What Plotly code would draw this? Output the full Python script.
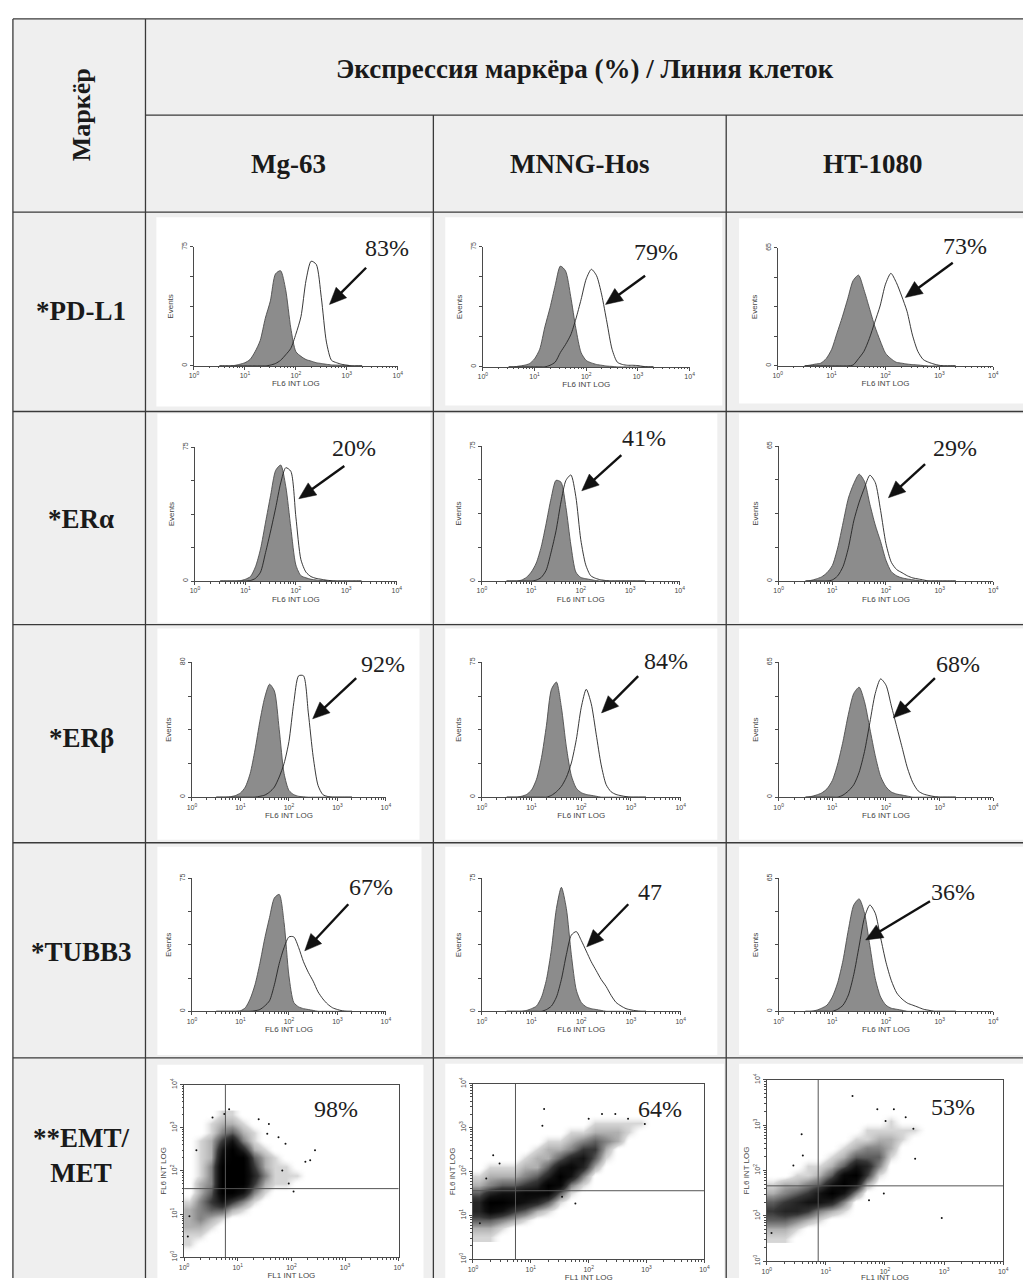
import math
import plotly.graph_objects as go

W, H = 1029, 1282

# ---------------- text / categories ----------------
TITLE = "Экспрессия маркёра (%) / Линия клеток"
MARKER_HEADER = "Маркёр"
CELL_LINES = ["Mg-63", "MNNG-Hos", "HT-1080"]
MARKERS = ["*PD-L1", "*ERα", "*ERβ", "*TUBB3", "**EMT/<br>MET"]
PERCENTS = [["83%", "79%", "73%"],
            ["20%", "41%", "29%"],
            ["92%", "84%", "68%"],
            ["67%", "47", "36%"],
            ["98%", "64%", "53%"]]
EVENTS_MAX = [[75, 75, 65], [75, 75, 65], [80, 75, 65], [75, 75, 65]]
DECADE_LABELS = ["10<sup>0</sup>", "10<sup>1</sup>", "10<sup>2</sup>", "10<sup>3</sup>", "10<sup>4</sup>"]

# ---------------- histogram data (log10 FL6 intensity grid, events) ----------------
LOG_GRID = [0.5, 0.6, 0.7, 0.8, 0.9, 1.0, 1.1, 1.2, 1.3, 1.4, 1.5, 1.6, 1.7, 1.8, 1.9,
            2.0, 2.1, 2.2, 2.3, 2.4, 2.5, 2.6, 2.7, 2.8, 2.9, 3.0, 3.1, 3.2, 3.3]

PDL1_CONTROL = [
    [0, 0, 0, 0.3, 1, 2, 4, 9, 16, 30, 41, 58, 60, 48, 24, 9, 6, 4, 3, 2, 1.5, 1, 0.6, 0.5, 0.4, 0.2, 0, 0, 0],
    [0, 0, 0.5, 1, 2, 5, 11, 25, 37, 51, 63, 60, 44, 24, 9, 4, 2.5, 1.5, 1, 0.5, 0.3, 0, 0, 0, 0, 0, 0, 0, 0],
    [0, 0.4, 1, 1.5, 4, 9, 18, 27, 37, 47, 50, 42, 32, 22, 14, 7, 4, 2, 1.5, 1, 0.7, 0.5, 0.2, 0, 0, 0, 0, 0, 0],
]
PDL1_MARKER = [
    [0, 0, 0, 0, 0, 0, 0, 0, 0, 0, 0.5, 1.5, 3.5, 7, 11, 20, 31, 54, 66, 64, 43, 15, 3.5, 2, 1, 0.5, 0, 0, 0],
    [0, 0, 0, 0, 0, 0, 0, 0, 1, 3, 9, 14, 20, 30, 42, 55, 61, 57, 45, 28, 11, 3, 1.5, 1, 1, 0.8, 0.3, 0, 0],
    [0, 0, 0, 0, 0, 0, 0, 0, 0, 0.5, 4, 8, 15, 24, 33, 45, 51, 46, 38.5, 30, 17, 8, 3.5, 2, 1, 0.3, 0, 0, 0],
]
ERA_CONTROL = [
    [0, 0, 0, 0, 0.2, 1, 2.5, 8, 18, 33, 48, 62, 65, 53, 30, 9, 3, 1.8, 1, 0.6, 0.3, 0.2, 0, 0, 0, 0, 0, 0, 0],
    [0, 0, 0, 0.5, 2, 5, 10, 19, 32, 46, 56, 55, 41, 20, 5, 2, 1.3, 0.8, 0.3, 0, 0, 0, 0, 0, 0, 0, 0, 0, 0],
    [0, 0.3, 1, 2, 4, 7.5, 16, 28, 40, 47, 51.5, 48, 37, 27, 19, 10, 4.5, 2.5, 1.5, 1, 0.6, 0.3, 0, 0, 0, 0, 0, 0, 0],
]
ERA_MARKER = [
    [0, 0, 0, 0, 0, 0, 0.3, 1.5, 5, 16, 28, 41, 55, 63.5, 61.5, 36, 12, 5, 2.5, 1.5, 1, 0.5, 0.2, 0, 0, 0, 0, 0, 0],
    [0, 0, 0, 0, 0, 0, 0.5, 2, 6, 16, 28, 44, 56, 59, 47, 23, 9, 3, 1.5, 0.7, 0.3, 0, 0, 0, 0, 0, 0, 0, 0],
    [0, 0, 0, 0, 0, 0.5, 2.5, 7, 16, 29, 38, 45, 51, 47.5, 34, 18, 9, 5.5, 4, 2.5, 1.5, 1, 0.5, 0, 0, 0, 0, 0, 0],
]
ERB_CONTROL = [
    [0, 0, 0, 0.3, 1, 2.5, 6, 14, 28, 45, 59, 67, 63, 40, 14, 4, 1.5, 0.5, 0.2, 0, 0, 0, 0, 0, 0, 0, 0, 0, 0],
    [0, 0, 0, 0.5, 1.5, 4, 10, 22, 40, 60, 64, 50, 28, 12, 5, 2.5, 1.5, 1, 0.5, 0, 0, 0, 0, 0, 0, 0, 0, 0, 0],
    [0, 0.3, 1, 2, 4, 8, 16, 27, 40, 50, 53, 46, 33, 20, 10, 5, 2.5, 1.5, 1, 0.5, 0, 0, 0, 0, 0, 0, 0, 0, 0],
]
ERB_MARKER = [
    [0, 0, 0, 0, 0, 0, 0, 0, 0, 0.5, 1.2, 3, 6, 12, 20, 33, 56, 72, 72, 50, 24, 7, 1.5, 0.4, 0, 0, 0, 0, 0],
    [0, 0, 0, 0, 0, 0, 0, 0, 0, 1, 3, 6, 11, 19, 32, 50, 60, 52, 35, 18, 7, 3, 1.5, 0.8, 0.3, 0, 0, 0, 0],
    [0, 0, 0, 0, 0, 0, 0, 1, 3, 6, 12, 22, 36, 50, 57, 54, 44, 34, 24, 14, 7, 3, 1.5, 0.8, 0.3, 0, 0, 0, 0],
]
TUBB3_CONTROL = [
    [0, 0, 0, 0, 0, 0.3, 2, 7, 15, 27, 41, 53, 64, 66, 50, 20, 5, 2.5, 1.5, 1, 0.5, 0, 0, 0, 0, 0, 0, 0, 0],
    [0, 0, 0, 0, 0.5, 1.5, 3, 8, 18, 35, 58, 70, 58, 32, 12, 5, 2.5, 1.5, 1, 0.5, 0, 0, 0, 0, 0, 0, 0, 0, 0],
    [0, 0, 0.5, 1.5, 3, 7, 14, 25, 40, 52, 55, 48, 32, 16, 7, 3, 1.5, 1, 0.5, 0, 0, 0, 0, 0, 0, 0, 0, 0, 0],
]
TUBB3_MARKER = [
    [0, 0, 0, 0, 0, 0, 0, 0, 0.3, 1, 3, 6, 15, 27, 36, 42, 42, 36, 28, 22, 17, 11, 7, 4, 2, 1, 0.3, 0, 0],
    [0, 0, 0, 0, 0, 0, 0, 0, 1, 3, 8, 18, 32, 43, 45, 40, 34, 28, 23, 18, 14, 9, 5, 3, 1.5, 0.8, 0.3, 0, 0],
    [0, 0, 0, 0, 0, 0, 1, 3, 8, 18, 32, 46, 52, 48, 36, 24, 15, 9, 6, 4, 3, 2, 1, 0.5, 0, 0, 0, 0, 0],
]
HIST_CONTROL = [PDL1_CONTROL, ERA_CONTROL, ERB_CONTROL, TUBB3_CONTROL]
HIST_MARKER = [PDL1_MARKER, ERA_MARKER, ERB_MARKER, TUBB3_MARKER]

# ---------------- EMT/MET dot-plot densities (log10 FL1 x log10 FL6 bins, 0-9) ----------------
MG_X = [0.1, 0.3, 0.5, 0.7, 0.9, 1.1, 1.3, 1.5, 1.7, 1.9, 2.1, 2.3, 2.5, 2.7, 2.9]
MG_Y = [3.3, 3.1, 2.9, 2.7, 2.5, 2.3, 2.1, 1.9, 1.7, 1.5, 1.3, 1.1, 0.9, 0.7, 0.5, 0.3, 0.1]
MG_DENSITY = ["000110000000000", "001221000000000", "001342100000000", "012573100000000",
              "012796210000000", "012899421000000", "013999521100000", "013999631110000",
              "023999521100000", "024997310000000", "135753100000000", "234421000000000",
              "232100000000000", "221000000000000", "110000000000000", "100000000000000",
              "000000000000000"]
MG_SPARSE_X = [2.44, 2.35, 2.26, 2.04, 1.89, 1.76, 1.58, 1.55, 1.39, 0.84, 0.75, 0.53, 0.23, 0.10, 0.07, 1.95, 1.83]
MG_SPARSE_Y = [2.48, 2.25, 2.21, 1.52, 2.63, 2.78, 3.09, 2.86, 3.20, 3.43, 3.32, 3.24, 2.48, 0.95, 0.48, 1.71, 2.01]

MNNG_X = [0.1, 0.3, 0.5, 0.7, 0.9, 1.1, 1.3, 1.5, 1.7, 1.9, 2.1, 2.3, 2.5, 2.7, 2.9, 3.1]
MNNG_Y = [3.3, 3.1, 2.9, 2.7, 2.5, 2.3, 2.1, 1.9, 1.7, 1.5, 1.3, 1.1, 0.9, 0.7, 0.5]
MNNG_DENSITY = ["0000000000000000", "0000000000111110", "0000000011222100", "0000001123432000",
                "0000012235520000", "0000122467410000", "0111224786200000", "1222346973000000",
                "2344569831000000", "4677888410000000", "6998764100000000", "6875421000000000",
                "4432100000000000", "2210000000000000", "1100000000000000"]
MNNG_SPARSE_X = [1.23, 1.20, 0.35, 2.97, 2.68, 2.46, 2.23, 0.23, 0.12, 2.00, 0.46, 1.77, 1.54]
MNNG_SPARSE_Y = [3.42, 3.04, 2.37, 3.08, 3.20, 3.31, 3.31, 1.84, 0.82, 3.20, 2.18, 1.27, 1.42]

HT_X = [0.1, 0.3, 0.5, 0.7, 0.9, 1.1, 1.3, 1.5, 1.7, 1.9, 2.1, 2.3, 2.5, 2.7, 2.9]
HT_Y = [3.3, 3.1, 2.9, 2.7, 2.5, 2.3, 2.1, 1.9, 1.7, 1.5, 1.3, 1.1, 0.9, 0.7, 0.5]
HT_DENSITY = ["000000000000000", "000000000010000", "000000001111100", "000000011221000",
              "000000123320000", "000001244410000", "000112476300000", "001124895100000",
              "122347972000000", "234579730000000", "456776300000000", "566532100000000",
              "443210000000000", "221000000000000", "110000000000000"]
HT_SPARSE_X = [1.45, 0.59, 0.61, 2.96, 2.51, 2.48, 2.35, 2.15, 2.01, 1.87, 1.98, 1.73, 0.45, 0.08]
HT_SPARSE_Y = [3.64, 2.80, 2.33, 0.95, 2.26, 2.92, 3.17, 3.35, 3.09, 3.35, 1.49, 1.34, 2.11, 0.62]

QUAD_X = [0.77, 0.735, 0.87]
QUAD_Y = [1.59, 1.56, 1.66]

DOT_X = [MG_X, MNNG_X, HT_X]
DOT_Y = [MG_Y, MNNG_Y, HT_Y]
DOT_DENSITY = [MG_DENSITY, MNNG_DENSITY, HT_DENSITY]
DOT_SPARSE = [(MG_SPARSE_X, MG_SPARSE_Y), (MNNG_SPARSE_X, MNNG_SPARSE_Y), (HT_SPARSE_X, HT_SPARSE_Y)]

# ---------------- layout geometry (pixels) ----------------
HIST_BOX = [  # (left, right, top, bottom) of each histogram axis box
    [(191, 397, 242, 362), (483, 692, 242, 363), (781, 999, 243, 362)],
    [(192, 396, 444, 579), (482, 682, 443, 579), (782, 999, 443, 579)],
    [(189, 385, 661, 797), (482, 683, 661, 797), (782, 999, 661, 797)],
    [(189, 385, 879, 1013), (482, 683, 879, 1013), (782, 999, 879, 1013)],
]
DOT_BOX = [(181, 398, 1087, 1261), (473, 707, 1086, 1263), (770, 1009, 1082, 1265)]
PANELS = [
    [(153, 212, 430, 403), (445, 212, 725, 402), (742, 213, 1029, 400)],
    [(154, 410, 430, 621), (445, 410, 720, 621), (742, 410, 1029, 621)],
    [(154, 627, 419, 840), (445, 627, 720, 840), (742, 627, 1029, 840)],
    [(154, 847, 421, 1057), (445, 847, 720, 1057), (742, 847, 1029, 1057)],
    [(154, 1067, 423, 1282), (445, 1066, 727, 1282), (742, 1066, 1029, 1282)],
]
PCT_POS = [
    [(386, 243), (658, 247), (970, 241)],
    [(353, 445), (646, 435), (960, 445)],
    [(382, 663), (668, 660), (963, 663)],
    [(370, 888), (652, 893), (958, 893)],
    [(335, 1112), (662, 1112), (958, 1110)],
]
ARROWS = [  # (tail_x, tail_y, head_x, head_y)
    [(365, 263, 328, 300), (647, 271, 607, 300), (958, 258, 910, 293)],
    [(343, 463, 297, 496), (623, 452, 583, 488), (930, 461, 893, 495)],
    [(355, 677, 311, 718), (640, 675, 603, 712), (940, 677, 898, 717)],
    [(347, 905, 303, 952), (630, 905, 588, 948), (935, 902, 870, 941)],
]
COL_X = [142, 433, 729]
ROW_Y = [207, 408, 623, 843, 1060]
ROW_LABEL_Y = [307, 516, 737, 953, 1158]

AX = "#4a4a4a"
LINE = "#3a3a3a"
TICKFONT = dict(family="Liberation Sans", size=7, color="#444")
TITLEFONT = dict(family="Liberation Sans", size=8, color="#444")
SERIF = "Liberation Serif"

def fx(p):
    return p / W

def fy(p):
    return 1 - p / H

def label(text, x, y, size, angle=0, color="#1a1a1a"):
    return dict(text=text, x=fx(x), y=fy(y), xref="paper", yref="paper", xanchor="center",
                yanchor="middle", showarrow=False, textangle=angle, align="center",
                font=dict(family=SERIF, size=size, color=color))

MINOR = [d + math.log10(k) for d in range(4) for k in range(2, 10)]

fig = go.Figure()
layout = dict(
    width=W, height=H, margin=dict(l=0, r=0, t=0, b=0),
    paper_bgcolor="white", plot_bgcolor="rgba(0,0,0,0)", showlegend=False,
)
shapes = []
annotations = []

# table background and white panels
shapes.append(dict(type="rect", xref="paper", yref="paper", x0=fx(8), x1=1.0, y0=0, y1=fy(12),
                   fillcolor="#efefef", line=dict(width=0), layer="below"))
for row in PANELS:
    for (x0, y0, x1, y1) in row:
        shapes.append(dict(type="rect", xref="paper", yref="paper", x0=fx(x0), x1=fx(x1),
                           y0=fy(y1), y1=fy(y0), fillcolor="white", line=dict(width=0), layer="below"))

def hline(y, x0, x1):
    shapes.append(dict(type="line", xref="paper", yref="paper", x0=fx(x0), x1=fx(x1), y0=fy(y), y1=fy(y),
                       line=dict(color=LINE, width=1.3), layer="above"))

def vline(x, y0, y1):
    shapes.append(dict(type="line", xref="paper", yref="paper", x0=fx(x), x1=fx(x), y0=fy(y0), y1=fy(y1),
                       line=dict(color=LINE, width=1.3), layer="above"))

def arrow(tx, ty, hx, hy, head_len=17, half_w=7.5):
    dx, dy = hx - tx, hy - ty
    d = math.hypot(dx, dy)
    ux, uy = dx / d, dy / d
    bx, by = hx - head_len * ux, hy - head_len * uy
    px_, py_ = -uy, ux
    shapes.append(dict(type="line", xref="paper", yref="paper", x0=fx(tx), y0=fy(ty), x1=fx(bx + 2 * ux),
                       y1=fy(by + 2 * uy), line=dict(color="#111", width=2.4), layer="above"))
    pts = [(hx, hy), (bx + half_w * px_, by + half_w * py_), (bx - half_w * px_, by - half_w * py_)]
    path = "M " + " L ".join(f"{fx(a):.5f},{fy(b):.5f}" for a, b in pts) + " Z"
    shapes.append(dict(type="path", xref="paper", yref="paper", path=path, fillcolor="#111",
                       line=dict(color="#111", width=0.5), layer="above"))

hline(12, 8, 1029)
vline(8, 12, 1282)
vline(COL_X[0], 12, 1282)
hline(109, COL_X[0], 1029)
vline(COL_X[1], 109, 1282)
vline(COL_X[2], 109, 1282)
for y in ROW_Y:
    hline(y, 8, 1029)

# headers
annotations.append(label("<b>" + TITLE + "</b>", 586, 63, 27))
annotations.append(label("<b>" + MARKER_HEADER + "</b>", 77, 109, 26, angle=-90))
col_centers = [287, 581, 877]
for j, name in enumerate(CELL_LINES):
    annotations.append(label("<b>" + name + "</b>", col_centers[j], 158, 27))
for i, m in enumerate(MARKERS):
    annotations.append(label("<b>" + m + "</b>", 77, ROW_LABEL_Y[i], 27))

# histograms
n = 0
for i in range(4):
    for j in range(3):
        n += 1
        l, r, t, b = HIST_BOX[i][j]
        ymax = EVENTS_MAX[i][j]
        xa, ya = f"x{n}", f"y{n}"
        fig.add_trace(go.Scatter(x=LOG_GRID, y=HIST_CONTROL[i][j], mode="lines", fill="tozeroy",
                                 fillcolor="#8c8c8c", line=dict(color="#4d4d4d", width=0.9, shape="spline", smoothing=0.7),
                                 xaxis=xa, yaxis=ya, hoverinfo="skip"))
        fig.add_trace(go.Scatter(x=LOG_GRID, y=HIST_MARKER[i][j], mode="lines",
                                 line=dict(color="#222", width=0.9, shape="spline", smoothing=0.7),
                                 xaxis=xa, yaxis=ya, hoverinfo="skip"))
        layout[f"xaxis{n}"] = dict(
            domain=[fx(l), fx(r)], range=[0, 4], anchor=ya, showline=True, linecolor=AX, linewidth=1,
            ticks="outside", ticklen=3, tickwidth=1, tickcolor=AX, tickvals=[0, 1, 2, 3, 4],
            ticktext=DECADE_LABELS, tickfont=TICKFONT, showgrid=False, zeroline=False, fixedrange=True,
            minor=dict(tickvals=MINOR, ticks="outside", ticklen=1.5, tickcolor=AX, showgrid=False),
            title=dict(text="FL6 INT LOG", font=TITLEFONT, standoff=2))
        layout[f"yaxis{n}"] = dict(
            domain=[fy(b), fy(t)], range=[0, ymax], anchor=xa, showline=True, linecolor=AX, linewidth=1,
            ticks="outside", ticklen=3, tickwidth=1, tickcolor=AX,
            tickvals=[0, ymax], ticktext=["0", str(ymax)],
            minor=dict(tickvals=[ymax * 0.25, ymax * 0.5, ymax * 0.75], ticks="outside", ticklen=3,
                       tickcolor=AX, showgrid=False),
            tickangle=-90, tickfont=TICKFONT, showgrid=False, zeroline=False, fixedrange=True,
            title=dict(text="Events", font=TITLEFONT, standoff=6))
        px_, py_ = PCT_POS[i][j]
        annotations.append(label(PERCENTS[i][j], px_, py_, 24, color="#1e1e1e"))
        arrow(*ARROWS[i][j])

# EMT/MET dot plots
DOT_SCALE = [[0.0, "rgba(255,255,255,0)"], [0.111, "rgba(185,185,185,0.6)"],
             [0.3, "rgba(130,130,130,0.9)"], [0.55, "rgb(55,55,55)"], [0.8, "rgb(15,15,15)"], [1.0, "rgb(0,0,0)"]]
for j in range(3):
    n += 1
    l, r, t, b = DOT_BOX[j]
    xa, ya = f"x{n}", f"y{n}"
    z = [[int(c) for c in row] for row in DOT_DENSITY[j]]
    fig.add_trace(go.Heatmap(x=DOT_X[j], y=DOT_Y[j], z=z, zmin=0, zmax=9, colorscale=DOT_SCALE,
                             zsmooth="best", showscale=False, xaxis=xa, yaxis=ya, hoverinfo="skip"))
    sx, sy = DOT_SPARSE[j]
    fig.add_trace(go.Scatter(x=sx, y=sy, mode="markers", marker=dict(size=2, color="#111"),
                             xaxis=xa, yaxis=ya, hoverinfo="skip"))
    common = dict(range=[0, 4], showline=True, mirror=True, linecolor=AX, linewidth=1,
                  ticks="outside", ticklen=3, tickwidth=1, tickcolor=AX, tickvals=[0, 1, 2, 3, 4],
                  ticktext=DECADE_LABELS, tickfont=TICKFONT, showgrid=False, zeroline=False, fixedrange=True,
                  minor=dict(tickvals=MINOR, ticks="outside", ticklen=1.5, tickcolor=AX, showgrid=False))
    layout[f"xaxis{n}"] = dict(domain=[fx(l), fx(r)], anchor=ya,
                               title=dict(text="FL1 INT LOG", font=TITLEFONT, standoff=0), **common)
    layout[f"yaxis{n}"] = dict(domain=[fy(b), fy(t)], anchor=xa, tickangle=-90,
                               title=dict(text="FL6 INT LOG", font=TITLEFONT, standoff=2), **common)
    shapes.append(dict(type="line", xref=xa, yref=ya, x0=QUAD_X[j], x1=QUAD_X[j], y0=0, y1=4,
                       line=dict(color="#555", width=1)))
    shapes.append(dict(type="line", xref=xa, yref=ya, x0=0, x1=4, y0=QUAD_Y[j], y1=QUAD_Y[j],
                       line=dict(color="#555", width=1)))
    px_, py_ = PCT_POS[4][j]
    annotations.append(label(PERCENTS[4][j], px_, py_, 24, color="#1e1e1e"))

layout["shapes"] = shapes
layout["annotations"] = annotations
fig.update_layout(**layout)

fig.write_html("out.html", config={"displayModeBar": False},
               post_script="document.body.style.margin='0px';")
